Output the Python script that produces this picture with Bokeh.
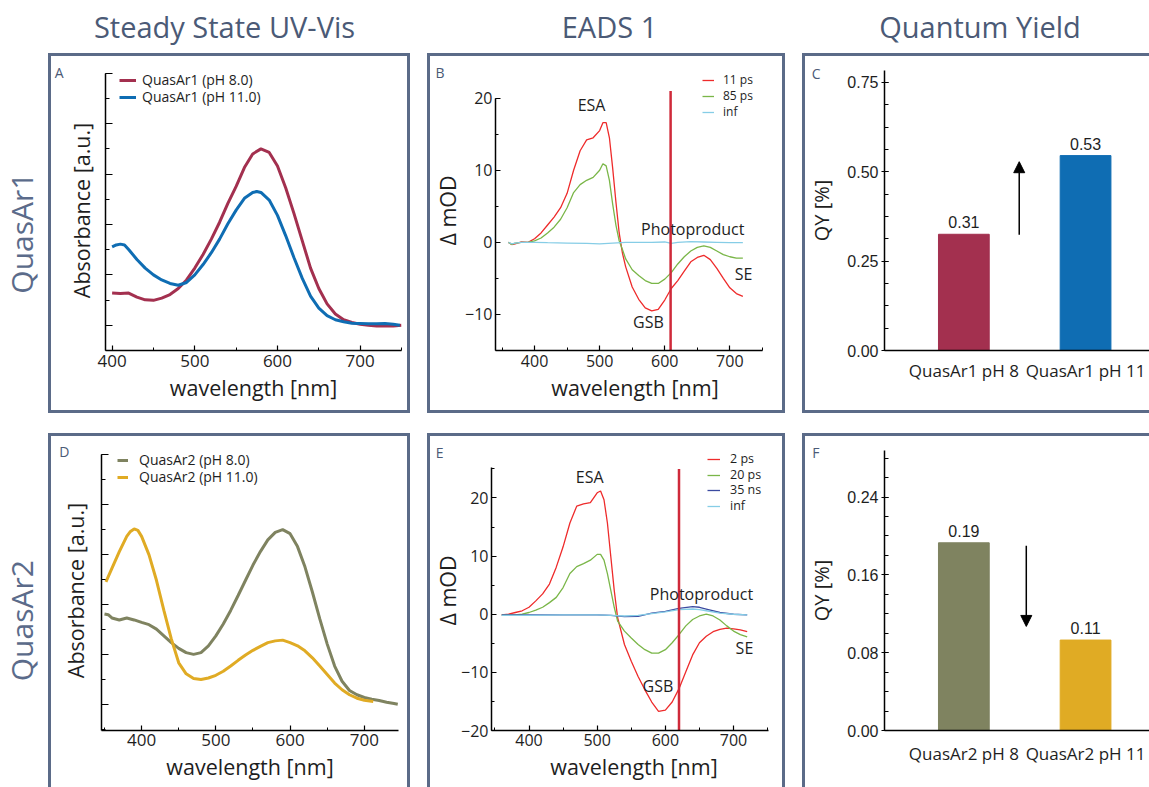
import math
from bokeh.plotting import figure
from bokeh.models import (Range1d, Legend, LegendItem, Label, Arrow, NormalHead, LinearAxis,
                          FixedTicker, SingleIntervalTicker, Spacer, PrintfTickFormatter,
                          CustomJSTickFormatter)
from bokeh.layouts import row, column
from bokeh.embed import file_html
from bokeh.resources import INLINE
from bokeh.core.properties import value

# ---------------- data ----------------
# A: steady-state UV-Vis, QuasAr1
uv1_wl_ph8 = [400, 410, 420, 430, 440, 450, 460, 470, 480, 490, 500, 510, 520, 530, 540, 550, 560, 570,
              580, 590, 600, 610, 620, 630, 640, 650, 660, 670, 680, 690, 700, 710, 720, 730, 740, 750]
uv1_ph8 = [0.128, 0.126, 0.128, 0.112, 0.101, 0.099, 0.108, 0.122, 0.146, 0.180, 0.227, 0.281, 0.342,
           0.409, 0.484, 0.551, 0.626, 0.680, 0.700, 0.686, 0.632, 0.545, 0.443, 0.335, 0.227, 0.146,
           0.085, 0.045, 0.022, 0.011, 0.004, 0.000, -0.003, -0.003, -0.003, 0.000]
uv1_wl_ph11 = [400, 405, 410, 415, 420, 430, 440, 450, 460, 470, 480, 490, 500, 510, 520, 530, 540, 550,
               560, 570, 575, 580, 590, 600, 610, 620, 630, 640, 650, 660, 670, 680, 690, 700, 710, 720,
               730, 740, 748]
uv1_ph11 = [0.311, 0.319, 0.322, 0.319, 0.301, 0.261, 0.227, 0.200, 0.180, 0.166, 0.159, 0.170, 0.200,
            0.241, 0.288, 0.342, 0.403, 0.457, 0.504, 0.527, 0.531, 0.527, 0.497, 0.436, 0.355, 0.268,
            0.186, 0.116, 0.068, 0.038, 0.022, 0.014, 0.008, 0.007, 0.006, 0.006, 0.007, 0.004, 0.000]

# D: steady-state UV-Vis, QuasAr2
uv2_wl_ph8 = [350, 355, 360, 365, 370, 375, 380, 390, 400, 410, 420, 430, 440, 450, 460, 470, 480, 490,
              500, 510, 520, 530, 540, 550, 560, 570, 580, 590, 600, 610, 620, 630, 640, 650, 660, 670,
              680, 690, 700, 710, 720, 730, 740, 745]
uv2_ph8 = [0.362, 0.359, 0.346, 0.342, 0.338, 0.342, 0.346, 0.338, 0.328, 0.319, 0.301, 0.274, 0.247,
           0.224, 0.207, 0.200, 0.207, 0.234, 0.274, 0.322, 0.376, 0.436, 0.497, 0.558, 0.612, 0.659,
           0.689, 0.700, 0.684, 0.632, 0.551, 0.450, 0.342, 0.241, 0.153, 0.092, 0.055, 0.038, 0.027,
           0.020, 0.015, 0.008, 0.003, 0.000]
uv2_wl_ph11 = [352, 360, 370, 380, 385, 390, 395, 400, 410, 420, 430, 440, 450, 460, 470, 480, 490, 500,
               510, 520, 530, 540, 550, 560, 570, 580, 590, 600, 610, 620, 630, 640, 650, 660, 670, 680,
               690, 700, 712]
uv2_ph11 = [0.491, 0.545, 0.612, 0.673, 0.693, 0.703, 0.697, 0.673, 0.599, 0.497, 0.376, 0.262, 0.166,
            0.122, 0.103, 0.099, 0.105, 0.116, 0.132, 0.153, 0.176, 0.197, 0.216, 0.232, 0.247, 0.254,
            0.257, 0.247, 0.234, 0.214, 0.186, 0.153, 0.119, 0.085, 0.058, 0.038, 0.024, 0.016, 0.011]

# B: EADS QuasAr1
eads1_wl = [360, 365, 370, 380, 390, 400, 410, 420, 430, 440, 450, 460, 470, 480, 490, 500, 505, 510,
            515, 520, 525, 530, 535, 540, 550, 560, 570, 580, 590, 600, 610, 620, 630, 640, 650, 660,
            670, 680, 690, 700, 710, 720]
eads1_11ps = [0, -0.3, -0.2, 0.05, 0, 0.5, 1.3, 2.4, 3.5, 4.8, 6.8, 10.0, 12.7, 14.2, 14.5, 15.5, 16.6,
              16.6, 14.5, 10.3, 5.6, 1.3, -1.5, -3.4, -6.2, -7.9, -9.1, -9.5, -9.3, -8.0, -6.4, -5.3,
              -4.0, -2.7, -2.1, -1.8, -2.4, -3.6, -5.0, -6.3, -7.1, -7.5]
eads1_85ps = [0, -0.3, -0.1, 0, 0, 0.2, 0.6, 1.3, 2.1, 3.2, 4.8, 6.9, 8.0, 8.6, 9.0, 10.0, 10.9, 10.6,
              8.6, 5.3, 2.4, 0.2, -1.0, -2.3, -3.8, -4.6, -5.3, -5.7, -5.7, -5.1, -4.2, -3.0, -2.0, -1.2,
              -0.7, -0.5, -0.7, -1.2, -1.7, -2.0, -2.2, -2.2]
eads1_inf_wl = [360, 365, 370, 380, 400, 420, 450, 480, 500, 520, 540, 560, 580, 600, 610, 620, 640,
                660, 680, 700, 720]
eads1_inf = [0, -0.2, -0.1, 0, 0, -0.05, -0.1, -0.15, -0.2, -0.1, 0, 0, 0, 0.05, -0.15, 0, 0.1, 0.05,
             0, -0.05, -0.05]
eads1_probe_nm = 609

# E: EADS QuasAr2
eads2_wl = [360, 370, 380, 390, 400, 410, 420, 430, 440, 450, 460, 470, 480, 490, 500, 505, 510, 515,
            520, 525, 530, 540, 550, 560, 570, 580, 590, 600, 610, 620, 630, 640, 650, 660, 670, 680,
            690, 700, 710, 720]
eads2_2ps = [-0.1, 0, 0.3, 0.6, 1.2, 2.3, 3.5, 5.2, 8.1, 11.6, 15.7, 18.6, 19.0, 19.2, 20.9, 21.2, 19.7,
             15.7, 9.9, 4.1, -0.6, -5.2, -8.1, -10.7, -13.0, -15.1, -16.7, -16.5, -15.1, -12.8, -9.9,
             -7.0, -4.9, -3.8, -3.0, -2.6, -2.4, -2.5, -2.7, -3.0]
eads2_20ps = [-0.1, -0.1, -0.1, 0, 0.3, 0.7, 1.2, 2.0, 2.9, 4.6, 7.0, 8.2, 8.7, 9.3, 10.3, 10.3, 9.3,
              7.0, 4.1, 1.2, -1.2, -2.9, -4.1, -5.2, -6.1, -6.7, -6.7, -6.1, -4.9, -3.5, -2.0, -0.9,
              -0.3, 0, -0.3, -1.0, -2.0, -2.9, -3.5, -3.9]
eads2_lt_wl = [360, 400, 450, 500, 520, 540, 560, 580, 600, 620, 640, 650, 660, 680, 700, 720]
eads2_35ns = [-0.1, -0.1, -0.1, -0.1, -0.2, -0.4, -0.35, 0.2, 0.5, 1.0, 1.3, 1.2, 0.9, 0.3, 0, -0.1]
eads2_inf = [-0.2, -0.2, -0.1, -0.1, -0.2, -0.3, -0.2, 0.1, 0.4, 0.8, 0.9, 0.8, 0.6, 0.2, 0, -0.1]
eads2_probe_nm = 620

# C / F: quantum yields
qy1_cats = ["QuasAr1 pH 8", "QuasAr1 pH 11"]
qy1_values = [0.325, 0.545]
qy1_text = ["0.31", "0.53"]
qy2_cats = ["QuasAr2 pH 8", "QuasAr2 pH 11"]
qy2_values = [0.193, 0.093]
qy2_text = ["0.19", "0.11"]

column_titles = ["Steady State UV-Vis", "EADS 1", "Quantum Yield"]
row_titles = ["QuasAr1", "QuasAr2"]
panel_letters = ["A", "B", "C", "D", "E", "F"]

# ---------------- style ----------------
BOX = "#5b6b88"
SLATE = "#4b5a76"
INK = "#1e1e1e"
FONT = "Open Sans"
C_RED1, C_BLUE1 = "#a3304f", "#0f6db3"
C_OLIVE, C_YELLOW = "#7f8360", "#e0ab24"
C_R, C_G, C_C, C_DB = "#ee2b2b", "#7ab648", "#86cde6", "#3b4aa0"
C_PROBE = "#cf2a3a"
MBT = 14


def make_panel(w, h, xr, yr, mbl, mbr, mbb, right_border=True, bottom_border=True):
    p = figure(width=w, height=h, x_range=Range1d(*xr), y_range=Range1d(*yr),
               output_backend="svg", toolbar_location=None, title=None, title_location=None,
               min_border_left=mbl, min_border_right=mbr, min_border_top=MBT, min_border_bottom=mbb)
    p.xgrid.visible = False
    p.ygrid.visible = False
    p.outline_line_color = None
    p.background_fill_color = "white"
    p.border_fill_color = "white"
    side = "3px solid " + BOX
    p.styles = {"box-sizing": "content-box", "border-left": side, "border-top": side,
                "border-right": side if right_border else "none",
                "border-bottom": side if bottom_border else "none"}
    for ax in (p.xaxis[0], p.yaxis[0]):
        ax.axis_line_width = 1.5
        ax.axis_line_color = "black"
        ax.major_tick_in = 5
        ax.major_tick_out = 0
        ax.minor_tick_in = 3
        ax.minor_tick_out = 0
        ax.major_tick_line_width = 1.2
        ax.minor_tick_line_width = 1.0
        ax.major_label_text_font = FONT
        ax.major_label_text_font_size = "17px"
        ax.major_label_text_color = INK
        ax.axis_label_text_font = FONT
        ax.axis_label_text_font_style = "normal"
        ax.axis_label_text_font_size = "21.5px"
        ax.axis_label_text_color = INK
    return p


def letter(p, txt, yv, standoff):
    ax = LinearAxis(ticker=FixedTicker(ticks=[yv], minor_ticks=[]),
                    major_label_overrides={yv: txt},
                    axis_line_color=None, major_tick_line_color=None, minor_tick_line_color=None,
                    major_tick_in=0, major_tick_out=0, minor_tick_in=0, minor_tick_out=0,
                    major_label_standoff=standoff, major_label_text_font=FONT,
                    major_label_text_font_size="14px", major_label_text_color=SLATE)
    p.add_layout(ax, "left")


def note(p, txt, x, y):
    p.add_layout(Label(x=x, y=y, text=txt, text_font=FONT, text_font_size="16px",
                       text_color=INK, text_align="center", text_baseline="middle"))


def legend(p, items, x, locs_y, gw, standoff, size):
    # one legend box per entry, so that each row sits where the reference has it
    for (lab, r), ly in zip(items, locs_y):
        lg = Legend(items=[LegendItem(label=lab, renderers=[r])], location=(x, ly),
                    glyph_width=gw, glyph_height=12, label_height=12, label_width=10,
                    label_standoff=standoff, spacing=0, padding=0, margin=0,
                    border_line_color=None, background_fill_alpha=0,
                    label_text_font=FONT, label_text_font_size=size, label_text_color=INK)
        p.add_layout(lg)


# ---------------- header & row labels ----------------
header = figure(width=1149, height=53, x_range=Range1d(0, 1149), y_range=Range1d(0, 53),
                output_backend="svg", toolbar_location=None, title=None, title_location=None,
                min_border=0, x_axis_location=None, y_axis_location=None)
header.grid.visible = False
header.outline_line_color = None
header.text(x=[224, 609, 979.5], y=[26.6, 26.6, 26.6], text=column_titles,
            text_font=value(FONT), text_font_size="29px", text_color=SLATE,
            text_align="center", text_baseline="middle")


def row_label(h, txt, yc):
    f = figure(width=48, height=h, x_range=Range1d(0, 48), y_range=Range1d(0, h),
               output_backend="svg", toolbar_location=None, title=None, title_location=None,
               min_border=0, x_axis_location=None, y_axis_location=None)
    f.grid.visible = False
    f.outline_line_color = None
    f.text(x=[21], y=[yc], text=[txt], angle=math.pi / 2, text_font=value(FONT),
           text_font_size="30px", text_color="#5b6b8a", text_align="center",
           text_baseline="middle")
    return f


lab1 = row_label(360, row_titles[0], 147)
lab2 = row_label(354, row_titles[1], 135)

blank = CustomJSTickFormatter(code="return ''")

# ---------------- A ----------------
pA = make_panel(356, 354, (392, 750), (-0.1, 1.011), 51, 12, 66)
rA1 = pA.line(uv1_wl_ph8, uv1_ph8, line_width=3, line_color=C_RED1)
rA2 = pA.line(uv1_wl_ph11, uv1_ph11, line_width=3, line_color=C_BLUE1)
pA.xaxis.ticker = SingleIntervalTicker(interval=100, num_minor_ticks=2)
pA.yaxis.ticker = SingleIntervalTicker(interval=0.2, num_minor_ticks=2)
pA.yaxis.bounds = (-0.1, 1.0)
pA.yaxis.formatter = blank
pA.yaxis.major_label_standoff = 0
pA.yaxis.major_tick_in = 7
pA.yaxis.minor_tick_in = 4
pA.xaxis.axis_label = "wavelength [nm]"
pA.yaxis.axis_label = "Absorbance [a.u.]"
pA.xaxis.major_label_standoff = 4
pA.xaxis.axis_label_standoff = 3
pA.yaxis.axis_label_standoff = 10
legend(pA, [("QuasAr1 (pH 8.0)", rA1), ("QuasAr1 (pH 11.0)", rA2)], 14, [261, 244], 17, 6, "14px")
letter(pA, panel_letters[0], 1.003, 0)

# ---------------- B ----------------
pB = make_panel(352, 354, (340, 768.6), (-15, 23.83), 62, 14, 66)
rB1 = pB.line(eads1_wl, eads1_11ps, line_width=1.3, line_color=C_R)
rB2 = pB.line(eads1_wl, eads1_85ps, line_width=1.3, line_color=C_G)
rB3 = pB.line(eads1_inf_wl, eads1_inf, line_width=1.3, line_color=C_C)
pB.segment(x0=[eads1_probe_nm], y0=[-15], x1=[eads1_probe_nm], y1=[21], line_color=C_PROBE, line_width=2.5)
pB.xaxis.ticker = SingleIntervalTicker(interval=100, num_minor_ticks=2)
pB.yaxis.ticker = SingleIntervalTicker(interval=10, num_minor_ticks=2)
pB.xaxis.bounds = (340, 750)
pB.yaxis.bounds = (-15, 20)
pB.xaxis.major_label_text_font_size = "16px"
pB.yaxis.major_label_text_font_size = "16px"
pB.xaxis.axis_label = "wavelength [nm]"
pB.yaxis.axis_label = "Δ mOD"
pB.xaxis.major_label_standoff = 4
pB.xaxis.axis_label_standoff = 3
pB.yaxis.major_label_standoff = 3
pB.yaxis.axis_label_standoff = 0
legend(pB, [("11 ps", rB1), ("85 ps", rB2), ("inf", rB3)], 207, [262, 246, 230], 12, 9, "12px")
note(pB, "ESA", 487.5, 19.0)
note(pB, "Photoproduct", 643, 1.9)
note(pB, "SE", 721, -4.4)
note(pB, "GSB", 575, -11.1)
letter(pB, panel_letters[1], 23.6, -14)


# ---------------- C / F ----------------
def qy_panel(h, ymax, mbb, ticks, minor, cats, vals, txt, colors, arrow, bottom_border, cat_standoff):
    p = make_panel(344, h, (-0.152, 2.05), (0, ymax), 76, 0, mbb,
                   right_border=False, bottom_border=bottom_border)
    xs = [i + 0.5 for i in range(len(cats))]
    p.vbar(x=xs, top=vals, width=0.417, fill_color=colors, line_color=colors)
    p.text(x=xs, y=vals, text=txt, text_align="center", text_baseline="middle", y_offset=-12,
           text_font=value("Liberation Sans"), text_font_size="16px", text_color=INK)
    p.add_layout(Arrow(end=NormalHead(size=11, fill_color="black", line_color="black"),
                       x_start=arrow[0], y_start=arrow[1], x_end=arrow[0], y_end=arrow[2],
                       line_width=1.5, line_color="black"))
    p.yaxis.ticker = FixedTicker(ticks=ticks, minor_ticks=minor)
    p.yaxis.formatter = PrintfTickFormatter(format="%.2f")
    p.yaxis.major_label_text_font = "Liberation Sans"
    p.yaxis.major_label_text_font_size = "16px"
    p.yaxis.major_tick_in = 4
    p.yaxis.major_tick_out = 3
    p.yaxis.minor_tick_in = 4
    p.yaxis.major_label_standoff = 3
    p.yaxis.axis_label = "QY [%]"
    p.yaxis.axis_label_text_font_size = "20px"
    p.yaxis.axis_label_standoff = 9
    p.xaxis.ticker = FixedTicker(ticks=xs, minor_ticks=[])
    p.xaxis.major_label_overrides = {x: c for x, c in zip(xs, cats)}
    p.xaxis.major_tick_in = 0
    p.xaxis.major_tick_out = 0
    p.xaxis.major_label_standoff = cat_standoff
    return p


pC = qy_panel(354, 0.783, 58, [0, 0.25, 0.5, 0.75], [0.0625 * i for i in range(13)],
              qy1_cats, qy1_values, qy1_text, [C_RED1, C_BLUE1], (0.955, 0.324, 0.528), True, 8)
letter(pC, panel_letters[2], 0.7755, -15)
pF = qy_panel(351, 0.2879, 57, [0, 0.08, 0.16, 0.24], [0.02 * i for i in range(15)],
              qy2_cats, qy2_values, qy2_text, [C_OLIVE, C_YELLOW], (1.013, 0.190, 0.107), False, 11)
letter(pF, panel_letters[5], 0.2862, -14)

# ---------------- D ----------------
pD = make_panel(356, 351, (346, 746), (-0.1054, 1.0174), 50, 15, 60, bottom_border=False)
rD1 = pD.line(uv2_wl_ph8, uv2_ph8, line_width=3, line_color=C_OLIVE)
rD2 = pD.line(uv2_wl_ph11, uv2_ph11, line_width=3, line_color=C_YELLOW)
pD.xaxis.ticker = SingleIntervalTicker(interval=100, num_minor_ticks=2)
pD.yaxis.ticker = SingleIntervalTicker(interval=0.2, num_minor_ticks=2)
pD.yaxis.bounds = (-0.1054, 1.0)
pD.yaxis.formatter = blank
pD.yaxis.major_label_standoff = 0
pD.yaxis.major_tick_in = 7
pD.yaxis.minor_tick_in = 4
pD.xaxis.axis_label = "wavelength [nm]"
pD.yaxis.axis_label = "Absorbance [a.u.]"
pD.xaxis.major_label_standoff = 3
pD.xaxis.axis_label_standoff = 3
pD.yaxis.axis_label_standoff = 12
legend(pD, [("QuasAr2 (pH 8.0)", rD1), ("QuasAr2 (pH 11.0)", rD2)], 16, [261, 244], 11, 11, "14px")
letter(pD, panel_letters[3], 1.0134, -12)

# ---------------- E ----------------
pE = make_panel(352, 351, (345, 763), (-20, 28.17), 60, 12, 60, bottom_border=False)
rE1 = pE.line(eads2_wl, eads2_2ps, line_width=1.3, line_color=C_R)
rE2 = pE.line(eads2_wl, eads2_20ps, line_width=1.3, line_color=C_G)
rE3 = pE.line(eads2_lt_wl, eads2_35ns, line_width=1.3, line_color=C_DB)
rE4 = pE.line(eads2_lt_wl, eads2_inf, line_width=1.3, line_color=C_C)
pE.segment(x0=[eads2_probe_nm], y0=[-20], x1=[eads2_probe_nm], y1=[25], line_color=C_PROBE, line_width=2.5)
pE.xaxis.ticker = SingleIntervalTicker(interval=100, num_minor_ticks=2)
pE.yaxis.ticker = SingleIntervalTicker(interval=10, num_minor_ticks=2)
pE.xaxis.bounds = (345, 751)
pE.yaxis.bounds = (-20, 25.2)
pE.xaxis.major_label_text_font_size = "16px"
pE.yaxis.major_label_text_font_size = "16px"
pE.xaxis.axis_label = "wavelength [nm]"
pE.yaxis.axis_label = "Δ mOD"
pE.xaxis.major_label_standoff = 3
pE.xaxis.axis_label_standoff = 3
pE.yaxis.major_label_standoff = 3
pE.yaxis.axis_label_standoff = -4
legend(pE, [("2 ps", rE1), ("20 ps", rE2), ("35 ns", rE3), ("inf", rE4)], 216,
       [263, 247, 232, 216], 13, 10, "12.5px")
note(pE, "ESA", 489, 23.6)
note(pE, "Photoproduct", 653, 3.5)
note(pE, "SE", 716, -5.8)
note(pE, "GSB", 589, -12.4)
letter(pE, panel_letters[4], 27.88, -13)

# ---------------- layout ----------------
row1 = row(lab1, pA, Spacer(width=17, height=360), pB, Spacer(width=17, height=360), pC)
row2 = row(lab2, pD, Spacer(width=17, height=354), pE, Spacer(width=17, height=354), pF)
layout = column(header, row1, Spacer(width=1149, height=20), row2)

open("out.html", "w").write(file_html(layout, INLINE))
